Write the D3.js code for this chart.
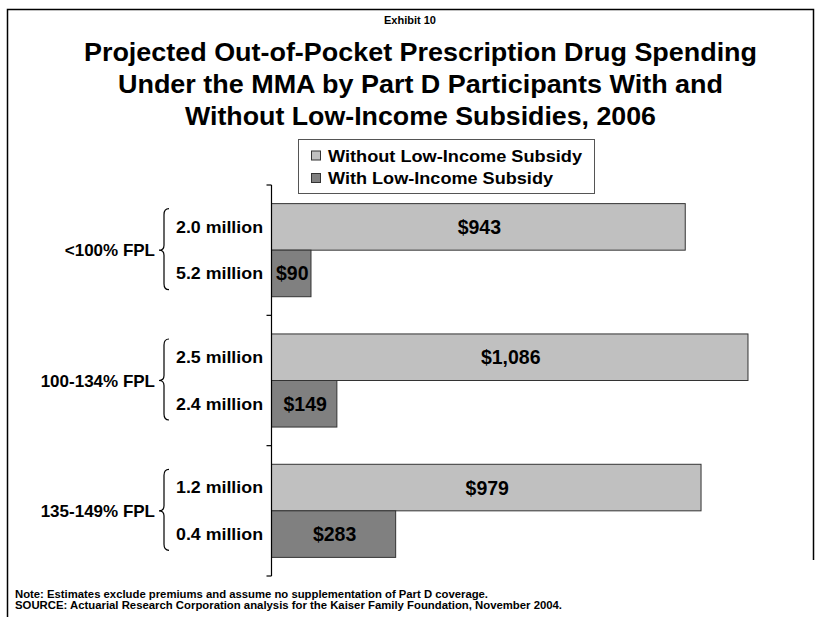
<!DOCTYPE html>
<html>
<head>
<meta charset="utf-8">
<script src="https://cdn.jsdelivr.net/npm/d3@7"></script>
<style>
  html, body { margin: 0; padding: 0; background: #fff; }
  text { font-family: "Liberation Sans", Arial, sans-serif; font-weight: bold; fill: #000; }
</style>
</head>
<body>
<svg id="chart" width="819" height="617"></svg>
<script>
const categories = ["<100% FPL", "100-134% FPL", "135-149% FPL"];
const withoutPop = ["2.0 million", "2.5 million", "1.2 million"];
const withPop = ["5.2 million", "2.4 million", "0.4 million"];
const withoutSubsidy = [943, 1086, 979];
const withSubsidy = [90, 149, 283];
const seriesNames = ["Without Low-Income Subsidy", "With Low-Income Subsidy"];
const seriesColors = ["#C0C0C0", "#808080"];
const titleLines = [
  "Projected Out-of-Pocket Prescription Drug Spending",
  "Under the MMA by Part D Participants With and",
  "Without Low-Income Subsidies, 2006"
];
const notes = [
  "Note: Estimates exclude premiums and assume no supplementation of Part D coverage.",
  "SOURCE: Actuarial Research Corporation analysis for the Kaiser Family Foundation, November 2004."
];

const svg = d3.select("#chart");

// frame
svg.append("path")
  .attr("d", "M7.5,617 L7.5,9.5 L813.5,9.5 L813.5,560")
  .attr("fill", "none").attr("stroke", "#000").attr("stroke-width", 1.5);

// exhibit label
svg.append("text").attr("x", 410).attr("y", 24).attr("text-anchor", "middle")
  .style("font-size", "11px").attr("textLength", 52).attr("lengthAdjust", "spacingAndGlyphs")
  .text("Exhibit 10");

// title
const titleWidths = [673, 605, 471];
const titleY = [61, 93, 125];
titleLines.forEach((t, i) => {
  svg.append("text").attr("x", 420.5).attr("y", titleY[i]).attr("text-anchor", "middle")
    .style("font-size", "25px")
    .attr("textLength", titleWidths[i]).attr("lengthAdjust", "spacingAndGlyphs")
    .text(t);
});

// legend
const lg = svg.append("g");
lg.append("rect").attr("x", 298.5).attr("y", 139.5).attr("width", 296).attr("height", 54)
  .attr("fill", "#fff").attr("stroke", "#555").attr("stroke-width", 1);
const legendW = [254, 225];
seriesNames.forEach((s, i) => {
  const yb = [161.5, 184][i];
  lg.append("rect").attr("x", 311.5).attr("y", yb - 10.5).attr("width", 9).attr("height", 9)
    .attr("fill", seriesColors[i]).attr("stroke", "#333").attr("stroke-width", 1);
  lg.append("text").attr("x", 328).attr("y", yb).style("font-size", "17px")
    .attr("textLength", legendW[i]).attr("lengthAdjust", "spacingAndGlyphs").text(s);
});

// scales
const x = d3.scaleLinear().domain([0, 1200]).range([271.5, 798]);
const y = d3.scaleBand().domain(categories).range([185, 576]).paddingInner(0).paddingOuter(0);
const ySub = d3.scaleBand().domain([0, 1]).range([0, y.bandwidth()]).paddingInner(0).paddingOuter(0.4);

const data = categories.map((c, i) => ({
  cat: c,
  vals: [withoutSubsidy[i], withSubsidy[i]],
  pops: [withoutPop[i], withPop[i]]
}));

const fmt = d3.format("$,");

// bars
const groups = svg.append("g").selectAll("g").data(data).join("g")
  .attr("transform", d => `translate(0,${y(d.cat)})`);

groups.selectAll("rect").data(d => d.vals.map((v, k) => ({ v, k })))
  .join("rect")
  .attr("x", x(0))
  .attr("y", d => ySub(d.k))
  .attr("width", d => x(d.v) - x(0))
  .attr("height", ySub.bandwidth())
  .attr("fill", d => seriesColors[d.k])
  .attr("stroke", "#333").attr("stroke-width", 1);

groups.selectAll("text.val").data(d => d.vals.map((v, k) => ({ v, k })))
  .join("text").attr("class", "val")
  .attr("x", d => (x(d.v) + x(0)) / 2 + 1)
  .attr("y", d => ySub(d.k) + ySub.bandwidth() / 2)
  .attr("dy", "0.36em")
  .attr("text-anchor", "middle")
  .style("font-size", "19.5px")
  .text(d => fmt(d.v));

// population labels
groups.selectAll("text.pop").data(d => d.pops.map((p, k) => ({ p, k })))
  .join("text").attr("class", "pop")
  .attr("x", 263)
  .attr("y", d => ySub(d.k) + ySub.bandwidth() / 2)
  .attr("dy", "0.36em")
  .attr("text-anchor", "end")
  .style("font-size", "16px")
  .attr("textLength", 87).attr("lengthAdjust", "spacingAndGlyphs")
  .text(d => d.p);

// category labels
groups.append("text")
  .attr("x", 155)
  .attr("y", y.bandwidth() / 2)
  .attr("dy", "0.36em")
  .attr("text-anchor", "end")
  .style("font-size", "17px")
  .text(d => d.cat);

// braces
groups.append("path")
  .attr("d", () => {
    const cy = y.bandwidth() / 2, top = cy - 41.5, bot = cy + 39.5;
    return `M169,${top} Q164,${top} 164,${top + 6} L164,${cy - 5} Q164,${cy} 159,${cy} ` +
           `Q164,${cy} 164,${cy + 5} L164,${bot - 6} Q164,${bot} 169,${bot}`;
  })
  .attr("fill", "none").attr("stroke", "#000").attr("stroke-width", 1.2);

// axis line with boundary ticks
const bounds = categories.map(c => y(c)).concat([y(categories[categories.length - 1]) + y.bandwidth()]);
const ax = svg.append("g");
ax.append("line").attr("x1", x(0)).attr("x2", x(0))
  .attr("y1", bounds[0]).attr("y2", bounds[bounds.length - 1])
  .attr("stroke", "#000").attr("stroke-width", 1.2);
ax.selectAll("line.tick").data(bounds).join("line").attr("class", "tick")
  .attr("x1", x(0) - 5).attr("x2", x(0))
  .attr("y1", d => d).attr("y2", d => d)
  .attr("stroke", "#000").attr("stroke-width", 1.2);

// notes
const noteW = [473, 547];
notes.forEach((n, i) => {
  svg.append("text").attr("x", 15).attr("y", [598, 609][i])
    .style("font-size", "10.5px")
    .attr("textLength", noteW[i]).attr("lengthAdjust", "spacingAndGlyphs")
    .text(n);
});
</script>
</body>
</html>
